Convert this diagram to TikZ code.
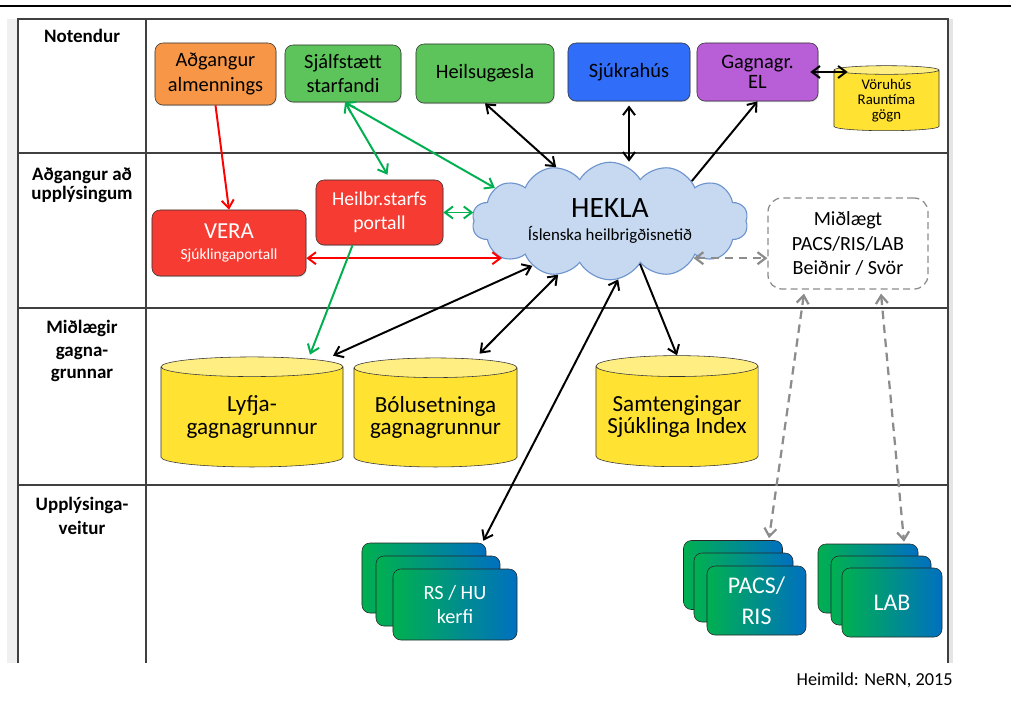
\documentclass[tikz,border=0pt]{standalone}
\usepackage{fontspec}
\setmainfont{Carlito}
\usetikzlibrary{shapes.geometric,shapes.symbols,arrows.meta,calc,shadows}

\definecolor{orangebox}{RGB}{247,150,70}
\definecolor{greenbox}{RGB}{92,196,90}
\definecolor{bluebox}{RGB}{48,110,250}
\definecolor{purplebox}{RGB}{184,94,214}
\definecolor{redbox}{RGB}{246,60,50}
\definecolor{dbyellow}{RGB}{255,226,50}
\definecolor{dbtop}{RGB}{255,238,130}
\definecolor{cloudfill}{RGB}{198,217,240}
\definecolor{cloudline}{RGB}{110,148,205}
\definecolor{srcgreen}{RGB}{0,176,80}
\definecolor{srcblue}{RGB}{0,112,192}
\definecolor{arrgreen}{RGB}{0,176,80}
\definecolor{dashgray}{RGB}{140,140,140}

\begin{document}
\begin{tikzpicture}[x=0.025cm, y=-0.025cm,
	>={Straight Barb[length=0.2cm,width=0.3cm]},
	grid/.style={draw=black!75, line width=0.9pt},
	rowlabel/.style={font=\bfseries\fontsize{13.5}{14}\selectfont, align=center, anchor=north, inner sep=0},
	box/.style={draw=black!80, rounded corners=0.2cm, align=center, inner sep=0,
		font=\fontsize{14.5}{17.5}\selectfont, drop shadow={shadow xshift=0.5pt, shadow yshift=-0.8pt, opacity=0.3}},
	db/.style={cylinder, shape border rotate=90, aspect=0.15, draw=black!80, cylinder uses custom fill,
		cylinder body fill=dbyellow, cylinder end fill=dbtop, align=center, inner sep=0,
		font=\fontsize{16.4}{16}\selectfont},
	src/.style={draw=black!85, rounded corners=0.2cm, left color=srcgreen, right color=srcblue,
		text=white, align=center, inner sep=0},
	link/.style={line width=1.4pt},
	grayarr/.style={link, <->, dashgray, line width=1.6pt, dash pattern=on 6pt off 4pt}]
	\useasboundingbox (0,0) rectangle (1011,718);

	% frame and table
	\draw[line width=1.5pt] (0,6) -- (1011,6);
	\fill[black!6] (7,19) rectangle (18,663);
	\fill[black!10] (948,19) rectangle (953,663);
	\draw[grid] (18,663) -- (18,19) -- (948,19) -- (948,663);
	\draw[grid] (146,19) -- (146,663);
	\foreach \y in {153,308,485}
		\draw[grid] (18,\y) -- (948,\y);

	% row labels
	\node[rowlabel] (rnot) at (82,29) {Notendur};
	\node[rowlabel] (racc) at (82,167) {Aðgangur að\\upplýsingum};
	\node[rowlabel, font=\bfseries\fontsize{13.5}{16}\selectfont] (rdb) at (82,320) {Miðlægir\\gagna-\\grunnar};
	\node[rowlabel, font=\bfseries\fontsize{13.5}{17}\selectfont] (rsrc) at (82,497) {Upplýsinga-\\veitur};

	% Notendur
	\node[box, fill=orangebox, minimum width=3.025cm, minimum height=1.55cm] (almenn) at (215.5,74) {Aðgangur\\almennings};
	\node[box, fill=greenbox, minimum width=2.9cm, minimum height=1.425cm] (sjalf) at (343,73.5) {Sjálfstætt\\starfandi};
	\node[box, fill=greenbox, minimum width=3.45cm, minimum height=1.475cm] (heilsu) at (485,73.5) {Heilsugæsla};
	\node[box, fill=bluebox, minimum width=3.05cm, minimum height=1.45cm] (sjukra) at (629,72) {Sjúkrahús};
	\node[box, fill=purplebox, minimum width=3.025cm, minimum height=1.45cm, font=\fontsize{14.5}{14}\selectfont] (gagn) at (757.5,72) {Gagnagr.\\EL};
	\node[db, minimum width=2.625cm, minimum height=1.625cm, font=\fontsize{10.5}{10.7}\selectfont] (voru) at (886.5,100.5) {Vöruhús\\Rauntíma\\gögn};

	% Adgangur ad upplysingum
	\node[cloud, cloud puffs=14, cloud puff arc=120, aspect=2.58, draw=cloudline, fill=cloudfill, line width=0.8pt,
		minimum width=6.9cm, minimum height=2.68cm, inner sep=0, align=center] (hekla) at (610,221)
		{{\fontsize{21}{22}\selectfont HEKLA}\\[4pt]{\fontsize{12}{14}\selectfont Íslenska heilbrigðisnetið}};
	\node[box, fill=redbox, text=white, minimum width=3.85cm, minimum height=1.65cm, font=\fontsize{16.3}{16}\selectfont] (vera) at (229,243)
		{VERA\\[-1pt]{\fontsize{11}{13}\selectfont Sjúklingaportall}};
	\node[box, fill=redbox, text=white, minimum width=3.175cm, minimum height=1.625cm, font=\fontsize{14}{17}\selectfont] (heilbr) at (379.5,212.5)
		{Heilbr.starfs\\portall};
	\node[draw=dashgray, line width=0.9pt, dash pattern=on 5pt off 3pt, rounded corners=0.35cm, fill=white, align=center,
		inner sep=0, minimum width=4cm, minimum height=2.275cm, font=\fontsize{14.3}{17.4}\selectfont] (midl) at (848,243.5)
		{Miðlægt\\PACS/RIS/LAB\\Beiðnir / Svör};

	% Midlaegir gagnagrunnar
	\node[db, minimum width=4.55cm, minimum height=2.75cm] (lyfja) at (252,417) {Lyfja-\\gagnagrunnur};
	\node[db, minimum width=4.075cm, minimum height=2.725cm] (bolu) at (435.5,417.5) {Bólusetninga\\gagnagrunnur};
	\node[db, minimum width=4.05cm, minimum height=2.775cm] (samt) at (677,416.5) {Samtengingar\\Sjúklinga Index};

	% Upplysingaveitur
	\node[src, minimum width=3.1cm, minimum height=1.75cm] (rsback) at (424,578) {};
	\node[src, minimum width=3.1cm, minimum height=1.75cm] (rsmid) at (438,591) {};
	\node[src, minimum width=3.1cm, minimum height=1.775cm, font=\fontsize{14.4}{16.4}\selectfont] (rs) at (455,604.5) {RS / HU\\kerfi};
	\node[src, minimum width=2.475cm, minimum height=1.725cm] (pacsback) at (733,575) {};
	\node[src, minimum width=2.475cm, minimum height=1.725cm] (pacsmid) at (743.5,587.5) {};
	\node[src, minimum width=2.475cm, minimum height=1.725cm, font=\fontsize{17}{22}\selectfont] (pacs) at (756.5,600.5) {PACS/\\RIS};
	\node[src, minimum width=2.5cm, minimum height=1.725cm] (labback) at (868,578.5) {};
	\node[src, minimum width=2.5cm, minimum height=1.725cm] (labmid) at (881,590.5) {};
	\node[src, minimum width=2.5cm, minimum height=1.725cm, font=\fontsize{17}{20}\selectfont] (lab) at (892,602.5) {LAB};

	\node[anchor=base east, inner sep=0, font=\fontsize{13}{15}\selectfont] (heimild) at (953,685) {Heimild: NeRN, 2015};

	% connectors
	\draw[link, ->, red] (almenn.south) -- (vera.north);
	\draw[link, <->, red] (hekla.199) -- (hekla.199 -| vera.east);
	\draw[link, <->, arrgreen] ($(sjalf.south)+(2,0)$) -- ($(heilbr.north)+(8,-5)$);
	\draw[link, <->, arrgreen] ($(sjalf.south)+(2,0)$) -- (hekla.164);
	\draw[link, <->, arrgreen] (heilbr.east) -- (heilbr.east -| hekla.west);
	\draw[link, ->, arrgreen] ($(heilbr.south)+(-27,0)$) -- ($(lyfja.north)+(58,-2)$);

	\draw[link, <->] (heilsu.south) -- (hekla.135);
	\draw[link, <->, shorten <=3pt] (sjukra.south) -- (sjukra.south |- hekla.north);
	\draw[link, ->] (hekla.26) -- (gagn.south);
	\draw[link, <->] ($(gagn.east)+(-8,0)$) -- ($(gagn.east -| voru.west)+(14,0)$);

	\draw[link, <->] (hekla.210) -- ($(lyfja.north)+(81,-1)$);
	\draw[link, <->] (hekla.226) -- ($(bolu.north)+(44,-4)$);
	\draw[link, <->] (hekla.278) -- ($(rsback.north east)+(-3,-2)$);
	\draw[link, ->] (hekla.305) -- (samt.north);

	\draw[grayarr] (hekla.336) -- (hekla.336 -| midl.west);
	\draw[grayarr] ($(midl.south)+(-44,4)$) -- ($(pacsback.north)+(36,-2)$);
	\draw[grayarr] ($(midl.south)+(33,4)$) -- ($(labback.north)+(36,-2)$);
\end{tikzpicture}
\end{document}
